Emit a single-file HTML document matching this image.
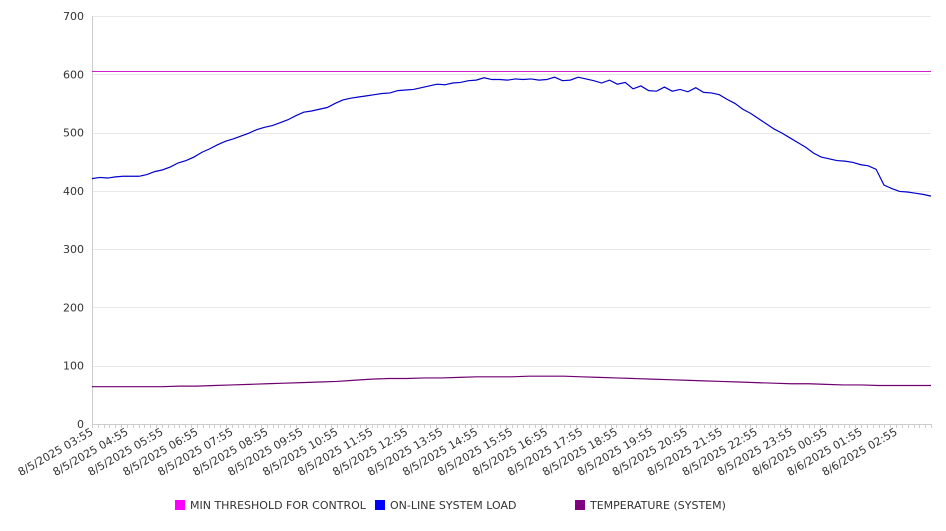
<!DOCTYPE html>
<html><head><meta charset="utf-8"><style>
body{margin:0;background:#fff;font-family:"Liberation Sans","DejaVu Sans",sans-serif}
svg text{font-family:"DejaVu Sans","Liberation Sans",sans-serif;font-size:11px;fill:#333}
</style></head><body>
<svg id="chart" width="946" height="526" xmlns="http://www.w3.org/2000/svg"></svg>
<script>
const categories=["8/5/2025 03:55","8/5/2025 04:55","8/5/2025 05:55","8/5/2025 06:55","8/5/2025 07:55","8/5/2025 08:55","8/5/2025 09:55","8/5/2025 10:55","8/5/2025 11:55","8/5/2025 12:55","8/5/2025 13:55","8/5/2025 14:55","8/5/2025 15:55","8/5/2025 16:55","8/5/2025 17:55","8/5/2025 18:55","8/5/2025 19:55","8/5/2025 20:55","8/5/2025 21:55","8/5/2025 22:55","8/5/2025 23:55","8/6/2025 00:55","8/6/2025 01:55","8/6/2025 02:55"];
const yTicks=[0,100,200,300,400,500,600,700];
const threshold=605;
const loadValues=[421,423,422,424,425,425,425,428,433,436,441,448,452,458,466,472,479,485,489,494,499,505,509,512,517,522,529,535,537,540,543,550,556,559,561,563,565,567,568,572,573,574,577,580,583,582,585,586,589,590,594,591,591,590,592,591,592,590,591,595,589,590,595,592,589,585,590,583,586,575,580,572,571,578,571,574,570,577,569,568,565,557,550,540,533,524,515,506,499,491,483,475,465,458,455,452,451,449,445,443,437,410,404,399,398,396,394,391];
const tempValues=[64,64,64,64,64,65,65,66,67,68,69,70,71,72,73,75,77,78,78,79,79,80,81,81,81,82,82,82,81,80,79,78,77,76,75,74,73,72,71,70,69,69,68,67,67,66,66,66,66];
const svg=document.getElementById('chart');const NS='http://www.w3.org/2000/svg';
const X0=92,X1=931,Y0=424,Y1=16,YMAX=700;
const yS=v=>Y0-(v/YMAX)*(Y0-Y1);
const xS=(i,n)=>X0+i*(X1-X0)/(n-1);
const xCat=i=>X0+i*(X1-X0)/categories.length;
function mk(t,a,p){const e=document.createElementNS(NS,t);for(const k in a)e.setAttribute(k,a[k]);(p||svg).appendChild(e);return e;}
yTicks.forEach(v=>{
const yy=Math.round(yS(v))+0.5;
const g=mk('line',{x1:X0,x2:X1,y1:yy,y2:yy,stroke:v===0?'#ccc':'#e8e8e8'});


const t=mk('text',{x:84,y:yS(v)+4,'text-anchor':'end'});t.textContent=v;


});
const ax=mk('line',{x1:X0+0.5,x2:X0+0.5,y1:Y1,y2:Y0,stroke:'#ccc'});


for(let k=0;k<=categories.length*6;k++){const x=Math.round(X0+k*(X1-X0)/(categories.length*6))+0.5;const m=mk('line',{x1:x,x2:x,y1:Y0,y2:Y0+4,stroke:'#ccc'});

}
categories.forEach((c,i)=>{const x=xCat(i)+2,y=Y0+10;const t=mk('text',{x:x,y:y,'text-anchor':'end',transform:`rotate(-30 ${x} ${y})`});t.textContent=c;

});
const ty=Math.round(yS(threshold))+0.5;
const th=mk('line',{x1:X0,x2:X1,y1:ty,y2:ty,stroke:'#d020d0','stroke-width':1});


function line(vals,col,name){const p=mk('polyline',{points:vals.map((v,i)=>xS(i,vals.length)+','+yS(v)).join(' '),fill:'none',stroke:col,'stroke-width':1.2});

}
line(tempValues,'#700070','temperature-line');
line(loadValues,'#0000cc','online-system-load-line');
const legend=[['MIN THRESHOLD FOR CONTROL','#ff00ff',175],['ON-LINE SYSTEM LOAD','#0000ff',375],['TEMPERATURE (SYSTEM)','#800080',575]];
legend.forEach(l=>{const r=mk('rect',{x:l[2],y:500,width:10,height:10,fill:l[1]});


const t=mk('text',{x:l[2]+15,y:509});t.textContent=l[0];

});
</script>
</body></html>
